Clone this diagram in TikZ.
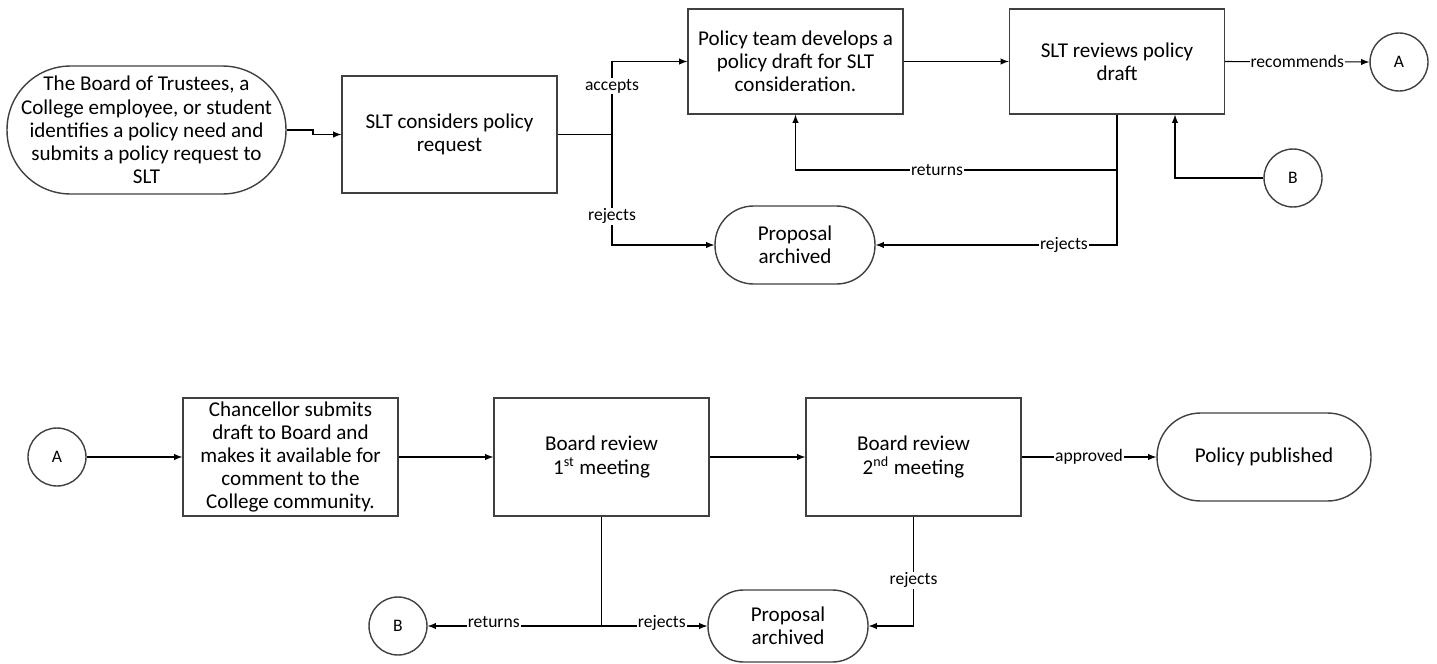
\documentclass[tikz,border=0pt]{standalone}
\usepackage{fontspec}
\setmainfont{Carlito}
\usetikzlibrary{calc}
\tikzset{
  proc/.style={draw=black!75, line width=0.8pt, align=center, minimum width=4.3cm, inner sep=2pt, font=\fontsize{12}{13.2}\selectfont},
  term/.style={draw=black!75, line width=0.8pt, align=center, inner sep=1pt, font=\fontsize{12}{13.2}\selectfont},
  conn/.style={draw=black!75, line width=0.8pt, circle, minimum size=1.16cm, inner sep=0pt, font=\fontsize{10}{12}\selectfont},
  lbl/.style={fill=white, inner sep=0.5pt, font=\fontsize{10}{12}\selectfont},
  flow/.style={line width=0.6pt, -latex},
}
\begin{document}
\begin{tikzpicture}[x=0.02cm, y=-0.02cm]
\useasboundingbox (0,0) rectangle (1437,663);
% top row
\node[term, rounded corners=1.27cm, minimum width=5.58cm, minimum height=2.56cm] (start) at (146.5,130) {The Board of Trustees, a\\College employee, or student\\identifies a policy need and\\submits a policy request to\\SLT};
\node[proc, minimum height=2.34cm] (consider) at (449.5,134.5) {SLT considers policy\\request};
\node[proc, minimum height=2.1cm] (team) at (795.5,61.5) {Policy team develops a\\policy draft for SLT\\consideration.};
\node[proc, minimum height=2.1cm] (review) at (1117,61.5) {SLT reviews policy\\draft};
\node[conn] (outA) at (1399,62) {A};
\node[conn] (inB) at (1293,178) {B};
\node[term, rounded corners=0.77cm, minimum width=3.2cm, minimum height=1.56cm] (archtop) at (795,245) {Proposal\\archived};
% bottom row
\node[conn] (inA) at (57,457) {A};
\node[proc, minimum height=2.36cm] (chanc) at (290.5,457) {Chancellor submits\\draft to Board and\\makes it available for\\comment to the\\College community.};
\node[proc, minimum height=2.36cm] (board1) at (601.5,457) {Board review\\1\textsuperscript{st} meeting};
\node[proc, minimum height=2.36cm] (board2) at (913.5,457) {Board review\\2\textsuperscript{nd} meeting};
\node[term, rounded corners=0.87cm, minimum width=4.28cm, minimum height=1.76cm] (pub) at (1264,457) {Policy published};
\node[conn] (outB) at (398,626) {B};
\node[term, rounded corners=0.71cm, minimum width=3.2cm, minimum height=1.44cm] (archbot) at (788,626) {Proposal\\archived};
% junctions
\coordinate (jog) at (313,130);
\coordinate (split1) at (612,134.5);
\coordinate (split2) at (review.south |- 0,170);
\coordinate (split3) at (board1.south |- outB);
% top connectors
\draw[flow] (start.east) -- (jog) |- (consider.west);
\draw[line width=0.6pt] (consider.east) -- (split1);
\draw[flow] (split1) |- (team.west) node[lbl, pos=0.33]{accepts};
\draw[flow] (split1) |- (archtop.west) node[lbl, pos=0.37]{rejects};
\draw[flow] (team.east) -- (review.west);
\draw[flow] (review.east) -- node[lbl]{recommends} (outA.west);
\draw[flow] (review.south) |- (archtop.east) node[lbl, pos=0.61]{rejects};
\draw[flow] (split2) -| (team.south) node[lbl, pos=0.28]{returns};
\draw[flow] (inB.west) -| ([xshift=1.16cm]review.south);
% bottom connectors
\draw[flow] (inA.east) -- (chanc.west);
\draw[flow] (chanc.east) -- (board1.west);
\draw[flow] (board1.east) -- (board2.west);
\draw[flow] (board2.east) -- node[lbl]{approved} (pub.west);
\draw[line width=0.6pt] (board1.south) -- (split3);
\draw[flow] (split3) -- node[lbl, pos=0.62, yshift=2pt]{returns} (outB.east);
\draw[flow] (split3) -- node[lbl, pos=0.57, yshift=2pt]{rejects} (archbot.west);
\draw[flow] (board2.south) |- (archbot.east) node[lbl, pos=0.29]{rejects};
\end{tikzpicture}
\end{document}
